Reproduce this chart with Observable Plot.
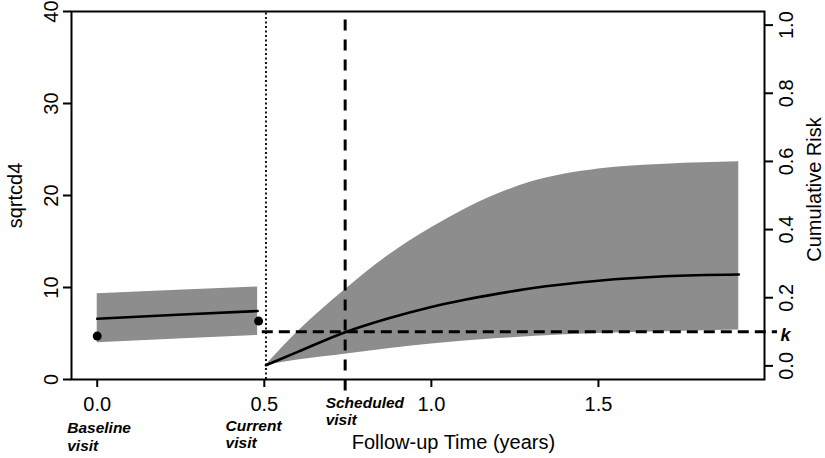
<!DOCTYPE html>
<html>
<head>
<meta charset="utf-8">
<script src="https://cdn.jsdelivr.net/npm/d3@7"></script>
<script src="https://cdn.jsdelivr.net/npm/@observablehq/plot@0.6"></script>
<style>
  body { margin: 0; background: #fff; }
  svg { display: block; }
</style>
</head>
<body>
<div id="chart"></div>
<script>
// Fitted sqrt(CD4) trajectory up to the current visit (left axis)
const markerTime  = [0, 0.24, 0.48];
const markerMean  = [6.61, 7.03, 7.44];
const markerLower = [4.0, 4.4, 4.79];
const markerUpper = [9.33, 9.7, 10.05];

// Observed sqrt(CD4) measurements
const obsTime  = [0, 0.483];
const obsValue = [4.72, 6.35];

// Predicted cumulative risk after the current visit (right axis)
const riskTime  = [0.505, 0.6, 0.74, 0.87, 1.0, 1.1, 1.2, 1.3, 1.5, 1.7, 1.92];
const riskMean  = [0.002, 0.041, 0.098, 0.139, 0.173, 0.194, 0.212, 0.228, 0.25, 0.263, 0.268];
const riskLower = [0.002, 0.017, 0.034, 0.05, 0.064, 0.073, 0.08, 0.086, 0.095, 0.1, 0.105];
const riskUpper = [0.002, 0.10, 0.222, 0.323, 0.405, 0.46, 0.505, 0.54, 0.578, 0.592, 0.599];

// Visit times and risk threshold
const currentVisit = 0.505;
const scheduledVisit = 0.742;
const riskThreshold = 0.1;

// Axis ticks
const xTicks = [0, 0.5, 1.0, 1.5];
const leftTicks = [0, 10, 20, 30, 40];
const riskTicks = [0, 0.2, 0.4, 0.6, 0.8, 1.0];

const xDomain = [-0.077, 1.997];
const yDomain = [0, 40];
const riskDomain = [-0.04, 1.04];
// map a cumulative risk onto the left (sqrtcd4) scale
const toLeft = r => (r - riskDomain[0]) / (riskDomain[1] - riskDomain[0]) * (yDomain[1] - yDomain[0]) + yDomain[0];

const marker = markerTime.map((t, i) => ({t, mean: markerMean[i], lo: markerLower[i], hi: markerUpper[i]}));
const obs = obsTime.map((t, i) => ({t, v: obsValue[i]}));
const risk = riskTime.map((t, i) => ({t, mean: toLeft(riskMean[i]), lo: toLeft(riskLower[i]), hi: toLeft(riskUpper[i])}));

const font = "Liberation Sans, Arial, sans-serif";
const band = "#8d8d8d";

const chart = Plot.plot({
  width: 825,
  height: 458,
  marginLeft: 71,
  marginRight: 61,
  marginTop: 11,
  marginBottom: 79,
  style: {fontFamily: font, color: "#000", background: "#fff"},
  x: {domain: xDomain, axis: null},
  y: {domain: yDomain, axis: null},
  marks: [
    // confidence bands
    Plot.areaY(marker, {x: "t", y1: "lo", y2: "hi", fill: band}),
    Plot.areaY(risk, {x: "t", y1: "lo", y2: "hi", fill: band, curve: "monotone-x"}),
    // fitted lines
    Plot.lineY(marker, {x: "t", y: "mean", stroke: "#000", strokeWidth: 2.6}),
    Plot.lineY(risk, {x: "t", y: "mean", stroke: "#000", strokeWidth: 2.6, curve: "monotone-x"}),
    // observed measurements
    Plot.dot(obs, {x: "t", y: "v", r: 4.5, fill: "#000"}),
    // current visit (dotted) and scheduled visit (dashed)
    Plot.ruleX([currentVisit], {y1: 0, y2: 40, stroke: "#000", strokeWidth: 1.8, strokeDasharray: "2,2.5"}),
    Plot.ruleX([scheduledVisit], {y1: -1.25, y2: 40, stroke: "#000", strokeWidth: 3, strokeDasharray: "11,9"}),
    // risk threshold k
    Plot.ruleY([toLeft(riskThreshold)], {x1: 0.494, x2: 2.036, stroke: "#000", strokeWidth: 3, strokeDasharray: "11,6"}),
    Plot.text(["k"], {x: xDomain[1], y: toLeft(riskThreshold), dx: 16, dy: 3, textAnchor: "start", lineAnchor: "middle",
      fontSize: 18, fontWeight: "bold", fontStyle: "italic", fill: "#000"}),
    // plot box
    Plot.frame({stroke: "#000", strokeWidth: 2}),
    // left axis
    Plot.axisY({ticks: leftTicks, tickSize: 8, tickFormat: () => "", label: null, strokeWidth: 2}),
    Plot.text(leftTicks, {x: () => xDomain[0], y: d => d, text: d => String(d), dx: -14, rotate: -90,
      textAnchor: "middle", lineAnchor: "bottom", fontSize: 20, fill: "#000"}),
    // right axis (cumulative risk)
    Plot.axisY({anchor: "right", ticks: riskTicks.map(toLeft), tickSize: 8, tickFormat: () => "", label: null, strokeWidth: 2}),
    Plot.text(riskTicks, {x: () => xDomain[1], y: d => toLeft(d), text: d => d.toFixed(1), dx: 14, rotate: -90,
      textAnchor: "middle", lineAnchor: "top", fontSize: 20, fill: "#000"}),
    // bottom axis
    Plot.axisX({ticks: xTicks, tickSize: 8, tickPadding: 9, tickFormat: d => d.toFixed(1), label: null,
      fontSize: 20, strokeWidth: 2}),
    // axis titles
    Plot.text(["sqrtcd4"], {frameAnchor: "left", dx: -55.5, rotate: -90, textAnchor: "middle", lineAnchor: "middle",
      fontSize: 20, fill: "#000"}),
    Plot.text(["Cumulative Risk"], {frameAnchor: "right", dx: 50, dy: -6, rotate: -90, textAnchor: "middle",
      lineAnchor: "middle", fontSize: 20, fill: "#000"}),
    Plot.text(["Follow-up Time (years)"], {x: 1.066, frameAnchor: "bottom", dy: 69, lineAnchor: "bottom",
      fontSize: 20, fill: "#000"}),
    // visit annotations
    Plot.text(["Baseline\nvisit"], {x: 0, frameAnchor: "bottom", dx: -30, dy: 41.5, textAnchor: "start",
      lineAnchor: "top", lineHeight: 1.12, fontSize: 15.5, fontWeight: "bold", fontStyle: "italic", fill: "#000"}),
    Plot.text(["Current\nvisit"], {x: 0.483, frameAnchor: "bottom", dx: -33, dy: 39, textAnchor: "start",
      lineAnchor: "top", lineHeight: 1.1, fontSize: 15.5, fontWeight: "bold", fontStyle: "italic", fill: "#000"}),
    Plot.text(["Scheduled\nvisit"], {x: scheduledVisit, frameAnchor: "bottom", dx: -19.5, dy: 16, textAnchor: "start",
      lineAnchor: "top", lineHeight: 1.12, fontSize: 15.5, fontWeight: "bold", fontStyle: "italic", fill: "#000"})
  ]
});

document.getElementById("chart").appendChild(chart);
</script>
</body>
</html>
